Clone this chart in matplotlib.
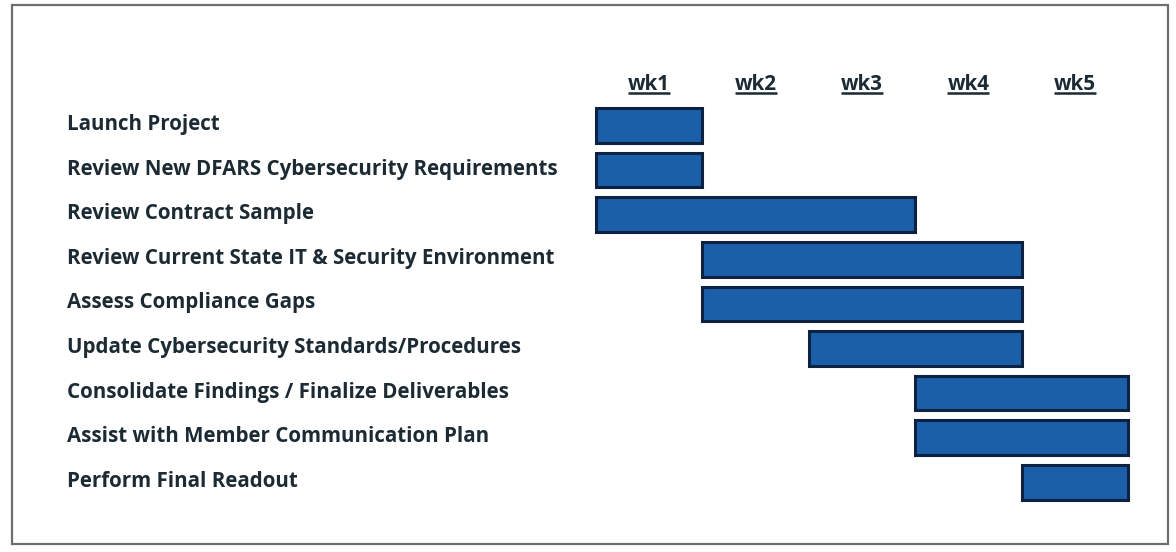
import matplotlib.pyplot as plt
from matplotlib.patches import Rectangle

# task rows, top to bottom; start / end in weeks (0 = start of wk1)
tasks = [
    "Launch Project",
    "Review New DFARS Cybersecurity Requirements",
    "Review Contract Sample",
    "Review Current State IT & Security Environment",
    "Assess Compliance Gaps",
    "Update Cybersecurity Standards/Procedures",
    "Consolidate Findings / Finalize Deliverables",
    "Assist with Member Communication Plan",
    "Perform Final Readout",
]
start_wk = [0, 0, 0, 1, 1, 2, 3, 3, 4]
end_wk = [1, 1, 3, 4, 4, 4, 5, 5, 5]
weeks = ["wk1", "wk2", "wk3", "wk4", "wk5"]

W, H = 1176, 552
BAR_COLOR = "#1b5fa9"
EDGE_COLOR = "#0d2240"
TEXT_COLOR = "#1c2a33"
FONT = ["Open Sans", "DejaVu Sans"]

fig = plt.figure(figsize=(W / 100, H / 100), dpi=100)
fig.patch.set_facecolor("white")

# outer frame like the scanned box
fig.add_artist(Rectangle((12 / W, 1 - 544 / H), 1156 / W, 539 / H,
                         transform=fig.transFigure, fill=False,
                         edgecolor="#6e6e6e", linewidth=1.6))

# axes spanning the week grid: x 596..1128 px, rows centred row0 + step*i px
x0, x1 = 596, 1128
top_px, bot_px = 70, 520
row0, step = 125.5, 44.6
ax = fig.add_axes([x0 / W, 1 - bot_px / H, (x1 - x0) / W, (bot_px - top_px) / H])
ax.set_xlim(0, len(weeks))
ax.set_ylim((bot_px - row0) / step, (top_px - row0) / step)
ax.axis("off")

for i, (s, e) in enumerate(zip(start_wk, end_wk)):
    ax.barh(i, e - s, left=s, height=0.78, color=BAR_COLOR,
            edgecolor=EDGE_COLOR, linewidth=2.2, clip_on=False)

# task labels, left aligned at x = 67 px
for i, name in enumerate(tasks):
    fig.text(67 / W, 1 - (row0 - 1 + step * i) / H, name, ha="left", va="center",
             fontsize=14.8, fontweight="bold", color=TEXT_COLOR, family=FONT)

# week headers, underlined
hdr_y = (84 - row0) / step
hdr = []
for k, wk in enumerate(weeks):
    t = ax.text(k + 0.5, hdr_y, wk, ha="center", va="center", fontsize=14.8,
                fontweight="bold", color=TEXT_COLOR, family=FONT)
    hdr.append(t)

fig.canvas.draw()
r = fig.canvas.get_renderer()
inv = ax.transData.inverted()
for t in hdr:
    bb = t.get_window_extent(r)
    (ax_l, ax_b), (ax_r, _) = inv.transform([(bb.x0, bb.y0 + 1), (bb.x1, bb.y0)])
    ax.plot([ax_l, ax_r], [ax_b, ax_b], color=TEXT_COLOR, linewidth=1.8,
            clip_on=False, solid_capstyle="butt")

fig.savefig("out.png", dpi=100)
